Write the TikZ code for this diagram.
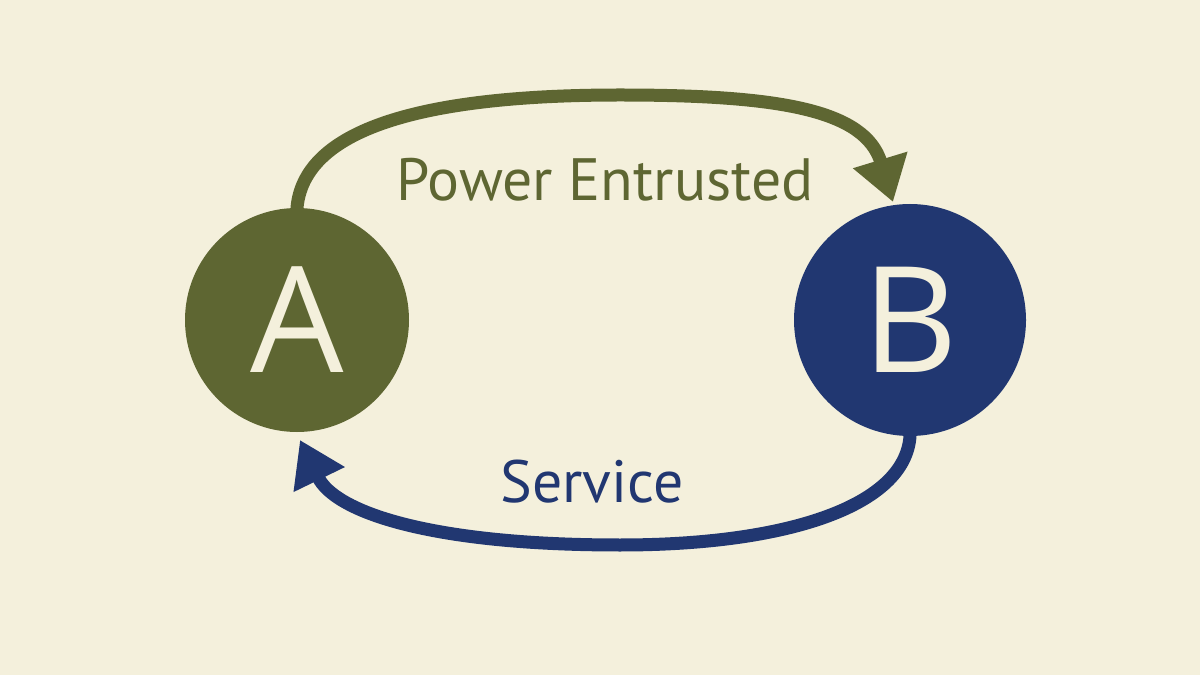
\documentclass[tikz,border=0pt]{standalone}
\usepackage{fontspec}
\setmainfont{PT Sans}
\newfontfamily\letterfont{Open Sans}
\usetikzlibrary{arrows.meta}
\definecolor{bgcream}{HTML}{F4F0DC}
\definecolor{olive}{HTML}{5E6632}
\definecolor{navy}{HTML}{213771}
\tikzset{
  party/.style={circle, inner sep=0pt, text=bgcream, font=\letterfont\fontsize{84}{84}\selectfont},
  flow/.style={line width=13*0.02cm, line cap=round, -{Triangle[length=0.88cm, width=1.08cm]}},
  lbl/.style={font=\fontsize{34}{34}\selectfont, inner sep=0pt}
}
\begin{document}
\begin{tikzpicture}[x=0.02cm, y=-0.02cm]
\fill[bgcream] (0,0) rectangle (1200,675);
\useasboundingbox (0,0) rectangle (1200,675);
\node[party, fill=olive, minimum size=224*0.02cm] (A) at (297,320) {A};
\node[party, fill=navy, minimum size=232*0.02cm] (B) at (910,320) {B};
\coordinate (topend) at (893,202);
\coordinate (botend) at (300,440);
\draw[flow, olive] (A.north) .. controls (305,120) and (450,95) .. (620,95)
  .. controls (780,95) and (865,110) .. (topend);
\draw[flow, navy] (B.south) .. controls (905,505) and (790,545) .. (620,545)
  .. controls (430,545) and (335,512) .. (botend);
\node[lbl, text=olive] (pe) at (605,180) {Power Entrusted};
\node[lbl, text=navy] (sv) at (592,482) {Service};
\end{tikzpicture}
\end{document}
